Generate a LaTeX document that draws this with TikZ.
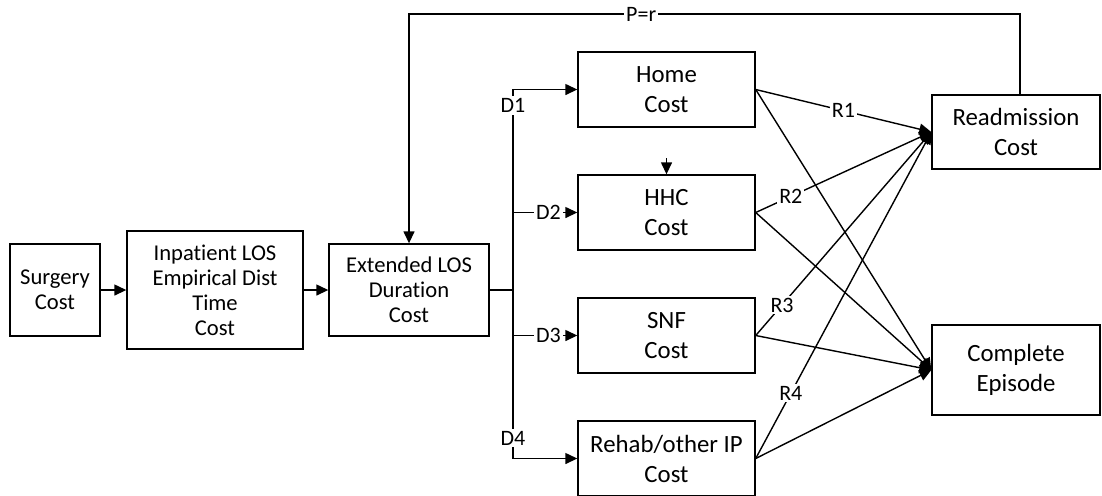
\documentclass[tikz,border=0pt]{standalone}
\usepackage{fontspec}
\setmainfont{Carlito}[Ligatures=NoCommon]
\usetikzlibrary{positioning, arrows.meta}

\tikzset{
  box/.style={draw, align=center, inner sep=0pt, font=\fontsize{11.3}{12.5}\selectfont},
  cbox/.style={box, minimum width=88.5pt, minimum height=37.5pt, font=\fontsize{12.4}{15}\selectfont},
  ebox/.style={box, minimum width=84pt, font=\fontsize{12.4}{15}\selectfont},
  lbl/.style={fill=white, inner sep=1pt, font=\fontsize{11}{12}\selectfont}
}

\begin{document}
\begin{tikzpicture}[x=0.5pt, y=-0.5pt, line width=0.7pt, on grid, node distance=61.5pt,
    >={Triangle[length=6pt, width=5.5pt]}]
    \useasboundingbox (0,0) rectangle (1102,495);

    \node[box, minimum width=45pt, minimum height=46pt] (surgery) at (55,290) {Surgery\\Cost};
    \node[box, minimum width=88pt, minimum height=59pt] (inpat) [right=80pt of surgery] {Inpatient LOS\\Empirical Dist\\Time\\Cost};
    \node[box, minimum width=80pt, minimum height=46pt] (extlos) [right=97pt of inpat] {Extended LOS\\Duration\\Cost};

    \node[cbox] (home) at (666.5,89.5) {Home\\Cost};
    \node[cbox] (hhc) [below=of home] {HHC\\Cost};
    \node[cbox] (snf) [below=of hhc] {SNF\\Cost};
    \node[cbox] (rehab) [below=of snf] {Rehab/other IP\\Cost};

    \node[ebox, minimum height=37pt] (readm) at (1016,132) {Readmission\\Cost};
    \node[ebox, minimum height=45pt] (complete) at (1016,370) {Complete\\Episode};

    \coordinate (bus) at (513,290);
    \coordinate (ptop) at (1020,14);
    \coordinate (hhcin) at ([yshift=8pt]hhc.north);

    \path[->]
      (surgery) edge (inpat)
      (inpat) edge (extlos)
      (hhcin) edge (hhc);

    \draw (extlos) -- (bus);
    \draw[->] (bus) |- node[lbl, pos=0.46] {D1} (home);
    \draw[->] (bus |- hhc) -- node[lbl, pos=0.55] {D2} (hhc);
    \draw[->] (bus |- snf) -- node[lbl, pos=0.55] {D3} (snf);
    \draw[->] (bus) |- node[lbl, pos=0.44] {D4} (rehab);

    % readmission loops back
    \draw[->] (ptop |- readm.north) -- (ptop) -| node[lbl, pos=0.31] {P=r} (extlos);

    \path[->]
      (home.east) edge node[lbl, pos=0.5] {R1} (readm.west)
          (home.east) edge (complete.west)
      (hhc.east) edge node[lbl, pos=0.2] {R2} (readm.west)
          (hhc.east) edge (complete.west)
      (snf.east) edge node[lbl, pos=0.15] {R3} (readm.west)
          (snf.east) edge (complete.west)
      (rehab.east) edge node[lbl, pos=0.2] {R4} (readm.west)
          (rehab.east) edge (complete.west);
\end{tikzpicture}
\end{document}
